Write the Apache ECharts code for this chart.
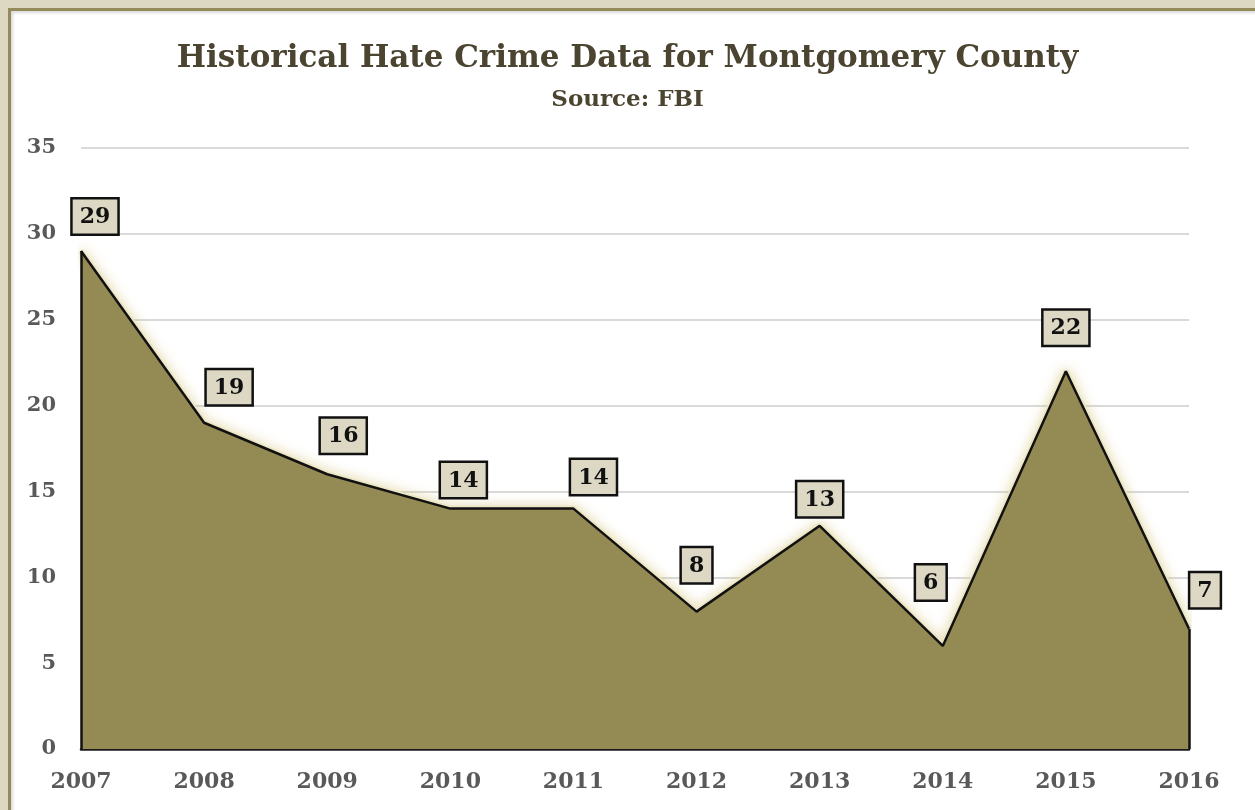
<!DOCTYPE html>
<html>
<head>
<meta charset="utf-8">
<script src="https://cdn.jsdelivr.net/npm/echarts@6/dist/echarts.min.js"></script>
<style>
  html, body { margin: 0; padding: 0; background: #ddd8c2; overflow: hidden; }
  #panel {
    position: absolute; left: 8px; top: 8px; width: 1400px; height: 1000px;
    background: #ffffff; border-left: 3px solid #958b5a; border-top: 3px solid #958b5a;
    box-shadow: inset 2px 2px 3px rgba(0,0,0,0.15);
  }
  #chart { position: absolute; left: 0; top: 0; width: 1255px; height: 810px; }
</style>
</head>
<body>
<div id="panel"></div>
<div id="chart"></div>
<script>
  // 数据
  const years = ['2007', '2008', '2009', '2010', '2011', '2012', '2013', '2014', '2015', '2016'];
  const crimes = [29, 19, 16, 14, 14, 8, 13, 6, 22, 7];
  const yTicks = [0, 5, 10, 15, 20, 25, 30, 35];

  // label nudges (Excel moved some boxes sideways)
  const labelShift = [[14, -17], [25, -18], [16, -21], [13, -11], [20, -14], [0, -29], [0, -9], [-12, -46], [0, -26], [16, -21]];

  const serif = '"DejaVu Serif", "Liberation Serif", serif';
  const myChart = echarts.init(document.getElementById('chart'), null, { renderer: 'canvas' });

  const option = {
    backgroundColor: 'transparent',
    animation: false,
    title: {
      text: 'Historical Hate Crime Data for Montgomery County',
      subtext: 'Source: FBI',
      left: 'center',
      top: 38,
      itemGap: 15,
      textStyle: { fontFamily: serif, fontWeight: 'bold', fontSize: 31, color: '#4a4430' },
      subtextStyle: { fontFamily: serif, fontWeight: 'bold', fontSize: 23, color: '#4a4430' }
    },
    grid: { left: 81, right: 66, top: 148, bottom: 61, containLabel: false },
    xAxis: {
      type: 'category',
      data: years,
      boundaryGap: false,
      axisLine: { lineStyle: { color: '#1a1a1a', width: 2.5 } },
      axisTick: { show: false },
      axisLabel: { fontFamily: serif, fontWeight: 'bold', fontSize: 22, color: '#595959', margin: 22 }
    },
    yAxis: {
      type: 'value',
      min: yTicks[0],
      max: yTicks[yTicks.length - 1],
      interval: 5,
      axisLine: { show: false },
      axisTick: { show: false },
      axisLabel: { fontFamily: serif, fontWeight: 'bold', fontSize: 21, color: '#595959', margin: 25 },
      splitLine: { lineStyle: { color: '#d9d9d9', width: 2 } }
    },
    series: [{
      // glow under the outline, covered by the fill below the line
      type: 'line',
      data: crimes,
      symbol: 'none',
      silent: true,
      lineStyle: {
        color: '#ece6c4', width: 6,
        shadowColor: 'rgba(215,200,130,0.85)', shadowBlur: 12
      },
      z: 2
    }, {
      type: 'line',
      data: crimes.map((v, i) => ({
        value: v,
        label: { offset: labelShift[i] }
      })),
      symbol: 'circle',
      symbolSize: 1,
      itemStyle: { color: 'rgba(0,0,0,0)' },
      lineStyle: { color: '#111111', width: 2.5 },
      areaStyle: { color: '#948a54', opacity: 1 },
      label: {
        show: true,
        position: 'top',
        distance: 0,
        fontFamily: serif,
        fontWeight: 'bold',
        fontSize: 22,
        color: '#111111',
        backgroundColor: '#ddd8c4',
        borderColor: '#111111',
        borderWidth: 2.5,
        padding: [7, 7, 5, 7]
      },
      markLine: {
        silent: true,
        symbol: 'none',
        label: { show: false },
        lineStyle: { color: '#111111', width: 2.5, type: 'solid' },
        data: [
          [{ coord: [years[0], 0] }, { coord: [years[0], crimes[0]] }],
          [{ coord: [years[years.length - 1], 0] }, { coord: [years[years.length - 1], crimes[crimes.length - 1]] }]
        ]
      },
      z: 3
    }]
  };

  myChart.setOption(option);
</script>
</body>
</html>
